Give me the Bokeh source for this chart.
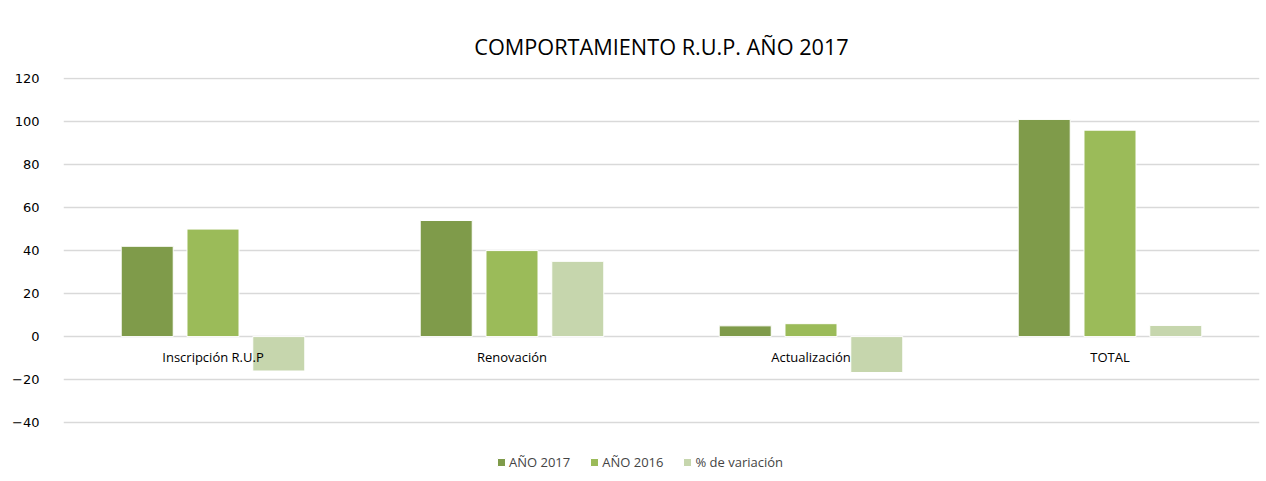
from bokeh.plotting import figure
from bokeh.models import Range1d, Legend, LegendItem, ColumnDataSource, FixedTicker, LabelSet
from bokeh.core.properties import value
from bokeh.embed import file_html
from bokeh.resources import INLINE

categories = ["Inscripción R.U.P", "Renovación", "Actualización", "TOTAL"]
anio_2017 = [42, 54, 5, 101]
anio_2016 = [50, 40, 6, 96]
variacion = [-16, 35, -16.7, 5.2]
series_names = ["AÑO 2017", "AÑO 2016", "% de variación"]
y_ticks = [-40, -20, 0, 20, 40, 60, 80, 100, 120]
colors = ["#7F9B4A", "#9BBB59", "#C6D6AD"]

# layout constants (positions derived from category index)
off = 0.22
w = 0.174
xi = [i + 0.5 for i in range(len(categories))]
src = ColumnDataSource(dict(
    xi=xi,
    x17=[x - off for x in xi],
    x16=[x for x in xi],
    xpc=[x + off for x in xi],
    cat=categories, a17=anio_2017, a16=anio_2016, pct=variacion,
    zero=[0] * len(categories)))

p = figure(x_range=Range1d(0, len(categories)), y_range=Range1d(-64.6, 120.5),
           width=1262, height=475, output_backend="svg", toolbar_location=None,
           min_border_left=63, min_border_right=3, min_border_top=77, min_border_bottom=0)

p.title.text = "COMPORTAMIENTO R.U.P. AÑO 2017"
p.title.align = "center"
p.title.text_font = "Open Sans"
p.title.text_font_size = "21.7px"
p.title.text_font_style = "normal"
p.title.text_color = "#000000"
p.title.standoff = 34
p.title.offset = -16

r1 = p.vbar(x="x17", top="a17", width=w, source=src,
            fill_color=colors[0], line_color="#ffffff")
r2 = p.vbar(x="x16", top="a16", width=w, source=src,
            fill_color=colors[1], line_color="#ffffff")
r3 = p.vbar(x="xpc", top="pct", width=w, source=src,
            fill_color=colors[2], line_color="#ffffff")

labels = LabelSet(x="xi", y="zero", text="cat", source=src, text_align="center",
                  text_baseline="middle", y_offset=-20, text_font=value("Open Sans"),
                  text_font_size="13px", text_color="#000000")
p.add_layout(labels)

p.xaxis.visible = False
p.xgrid.grid_line_color = None
p.ygrid.grid_line_color = "#d9d9d9"
p.ygrid.grid_line_width = 1.3
p.ygrid.ticker = FixedTicker(ticks=y_ticks)
p.yaxis.ticker = FixedTicker(ticks=y_ticks)
p.yaxis.axis_line_color = None
p.yaxis.major_tick_line_color = None
p.yaxis.minor_tick_line_color = None
p.yaxis.major_label_text_font = "DejaVu Sans"
p.yaxis.major_label_text_font_size = "13px"
p.yaxis.major_label_text_color = "#000000"
p.yaxis.major_label_standoff = 18
p.outline_line_color = None

legend = Legend(items=[LegendItem(label=series_names[0], renderers=[r1]),
                       LegendItem(label=series_names[1], renderers=[r2]),
                       LegendItem(label=series_names[2], renderers=[r3])],
                orientation="horizontal", location=(433, 4),
                glyph_width=10, glyph_height=10, label_standoff=3, spacing=19,
                label_text_font="Open Sans", label_text_font_size="13px",
                border_line_color=None, background_fill_alpha=0, margin=0, padding=2)
p.add_layout(legend)

open("out.html", "w").write(file_html(p, INLINE))
